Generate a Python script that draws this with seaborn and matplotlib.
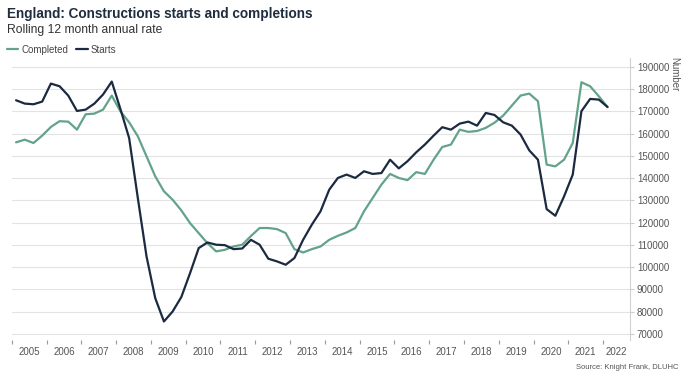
import matplotlib
matplotlib.use("Agg")
import matplotlib.pyplot as plt
import numpy as np
import pandas as pd
import seaborn as sns

# quarterly, 2005 Q1 .. 2022 Q1
years = list(range(2005, 2023))
starts = [
    175000, 173500, 173200, 174400, 182500, 181300, 177100, 170200,
    170800, 173500, 177600, 183400, 171000, 158000, 131000, 104800,
    86100, 75600, 80100, 86600, 97300, 108600, 111100, 110100,
    109900, 108100, 108400, 112300, 110100, 103800, 102600, 101100,
    104100, 112300, 119100, 125100, 134800, 140100, 141600, 140100,
    143100, 141900, 142300, 148300, 144400, 147600, 151600, 155100,
    159100, 162900, 161800, 164500, 165400, 163600, 169300, 168400,
    165100, 163600, 159600, 152500, 148300, 126100, 123100, 131800,
    141600, 170100, 175600, 175300, 172000,
]
completed = [
    156100, 157300, 155800, 159100, 163000, 165600, 165400, 161800,
    168700, 169000, 170800, 177100, 170000, 165100, 158800, 149800,
    140800, 134100, 130300, 125500, 119800, 115300, 110800, 107100,
    107800, 109300, 110100, 114000, 117600, 117600, 117100, 115300,
    108100, 106600, 108100, 109300, 112300, 114100, 115600, 117600,
    125100, 131100, 137100, 141900, 140100, 139100, 142700, 141900,
    148300, 154000, 155100, 161800, 160800, 161200, 162600, 164900,
    168100, 172600, 177100, 178000, 174600, 146100, 145300, 148300,
    155800, 183100, 181300, 176800, 171900,
]

NAVY = "#1b2a41"
TEAL = "#62a38a"
GREY = "#555555"

x = 2005.125 + 0.25 * np.arange(len(starts))
df = pd.concat([
    pd.DataFrame({"date": x, "value": completed, "series": "Completed"}),
    pd.DataFrame({"date": x, "value": starts, "series": "Starts"}),
])

sns.set_style("white")
plt.rcParams["font.family"] = ["Liberation Sans", "DejaVu Sans"]

fig = plt.figure(figsize=(6.9, 3.79), dpi=100)
ax = fig.add_axes([0.017, 0.103, 0.896, 0.744])

sns.lineplot(data=df, x="date", y="value", hue="series",
             palette={"Completed": TEAL, "Starts": NAVY},
             linewidth=1.6, ax=ax)

ax.set_xlim(2005, 2022.77)
ax.set_ylim(67300, 194000)

# y axis on the right
ax.yaxis.tick_right()
ax.set_yticks(range(70000, 190001, 10000))
ax.set_yticklabels([str(v) for v in range(70000, 190001, 10000)],
                   fontsize=7, color=GREY)
ax.tick_params(axis="y", length=3, color="#cccccc", pad=2)
ax.grid(axis="y", color="#e3e3e3", linewidth=0.8)
ax.set_axisbelow(True)

# x axis: ticks at year boundaries, labels in between
ax.set_xticks(years)
ax.set_xticklabels([])
mids = [y + 0.5 for y in years[:-1]] + [(2022 + 2022.77) / 2]
ax.set_xticks(mids, minor=True)
ax.set_xticklabels([str(y) for y in years], minor=True, fontsize=7, color=GREY)
ax.tick_params(axis="x", which="major", length=3, color="#999999",
               direction="out", bottom=True)
ax.tick_params(axis="x", which="minor", length=0, pad=5)

for s in ["top", "left", "bottom"]:
    ax.spines[s].set_visible(False)
ax.spines["right"].set_color("#d0d0d0")
ax.spines["right"].set_linewidth(0.8)

ax.set_xlabel("")
ax.set_ylabel("")
ax.text(1.072, 1.005, "Number", transform=ax.transAxes, rotation=270,
        ha="center", va="top", fontsize=7, color=GREY)

ax.legend(loc="upper left", bbox_to_anchor=(0.004, 0.892),
          bbox_transform=fig.transFigure, ncol=2, frameon=False,
          fontsize=7, handlelength=1.2, handletextpad=0.3,
          columnspacing=0.8, labelcolor="#444444", borderaxespad=0)

fig.text(0.01, 0.982, "England: Constructions starts and completions",
         fontsize=9.8, fontweight="bold", color="#1f2d40", va="top")
fig.text(0.01, 0.937, "Rolling 12 month annual rate",
         fontsize=8.7, color="#333333", va="top")
fig.text(0.984, 0.02, "Source: Knight Frank, DLUHC",
         fontsize=5.5, color=GREY, ha="right", va="bottom")

fig.savefig("out.png", dpi=100)
